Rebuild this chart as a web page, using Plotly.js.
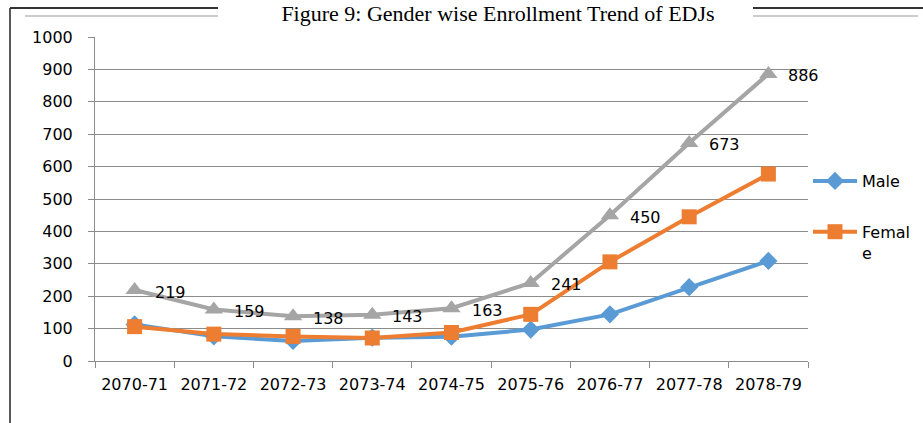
<!DOCTYPE html>
<html>
<head>
<meta charset="utf-8">
<script src="https://cdn.plot.ly/plotly-3.0.1.min.js"></script>
<style>html,body{margin:0;padding:0;background:#fff;}#chart{width:923px;height:423px;}</style>
</head>
<body>
<div id="chart"></div>
<script>
const categories = ["2070-71","2071-72","2072-73","2073-74","2074-75","2075-76","2076-77","2077-78","2078-79"];
const maleValues = [113, 76, 62, 72, 75, 97, 144, 228, 309];
const femaleValues = [106, 83, 76, 71, 88, 144, 306, 445, 577];
const totalValues = [219, 159, 138, 143, 163, 241, 450, 673, 886];
const yTicks = [0,100,200,300,400,500,600,700,800,900,1000];
const seriesNames = ["Male", "Femal<br>e", "Total"];

const FONT = "DejaVu Sans";
const GRID = "#8c8c8c";

const traces = [
  {x: categories, y: maleValues, name: seriesNames[0], type: "scatter", mode: "lines+markers",
   line: {color: "#5B9BD5", width: 4}, marker: {symbol: "diamond", size: 14, color: "#5B9BD5"},
   legendgroup: "m"},
  {x: categories, y: femaleValues, name: seriesNames[1], type: "scatter", mode: "lines+markers",
   line: {color: "#ED7D31", width: 4}, marker: {symbol: "square", size: 15, color: "#ED7D31"},
   legendgroup: "f"},
  {x: categories, y: totalValues, name: seriesNames[2], type: "scatter", mode: "lines+markers",
   line: {color: "#A5A5A5", width: 4}, marker: {symbol: "triangle-up", size: 16, color: "#A5A5A5"},
   showlegend: false}
];

const annotations = categories.map((c, i) => ({
  x: c, y: totalValues[i], text: String(totalValues[i]), showarrow: false,
  xanchor: "left", yanchor: "middle", xshift: 18, yshift: -2,
  font: {family: FONT, size: 16, color: "#000"}
}));

function px(xp){ return (xp - 95) / 713; }
function py(yp){ return (361 - yp) / 324; }

const shapes = [
  {type:"line", xref:"paper", yref:"paper", x0:px(10), x1:px(10), y0:py(8), y1:py(430), line:{color:"#222", width:1.5}},
  {type:"line", xref:"paper", yref:"paper", x0:px(10), x1:px(218), y0:py(8), y1:py(8), line:{color:"#333", width:2}},
  {type:"line", xref:"paper", yref:"paper", x0:px(753), x1:px(923), y0:py(8), y1:py(8), line:{color:"#333", width:2}},
  {type:"line", xref:"paper", yref:"paper", x0:px(25), x1:px(218), y0:py(16), y1:py(16), line:{color:"#999", width:1}},
  {type:"line", xref:"paper", yref:"paper", x0:px(753), x1:px(918), y0:py(16), y1:py(16), line:{color:"#999", width:1}}
];

const layout = {
  width: 923, height: 423,
  margin: {l: 95, r: 115, t: 37, b: 62, autoexpand: false},
  paper_bgcolor: "#fff", plot_bgcolor: "#fff",
  font: {family: FONT, size: 16, color: "#000"},
  title: {text: "Figure 9: Gender wise Enrollment Trend of EDJs",
          font: {family: "Liberation Serif", size: 22, color: "#000"},
          x: 498/923, xanchor: "center", xref: "container",
          y: 1 - 13/423, yanchor: "middle", yref: "container"},
  xaxis: {type: "category", showgrid: false, showline: true, linecolor: GRID, linewidth: 1,
          ticks: "outside", tickson: "boundaries", ticklen: 6, tickcolor: GRID,
          tickfont: {family: FONT, size: 16, color: "#000"}, zeroline: false,
          ticklabelstandoff: 9,
          range: [-0.5, categories.length - 0.5], fixedrange: true},
  yaxis: {range: [0, 1000], tickvals: yTicks, showgrid: true, gridcolor: GRID, gridwidth: 1,
          showline: true, linecolor: GRID, linewidth: 1, ticks: "outside", ticklen: 6, tickcolor: GRID,
          tickfont: {family: FONT, size: 16, color: "#000"}, zeroline: false, ticklabelstandoff: 12},
  legend: {x: px(808), y: py(164), xanchor: "left", yanchor: "top",
           font: {family: FONT, size: 16, color: "#000"}, valign: "top",
           itemwidth: 44,
           traceorder: "grouped", tracegroupgap: 27, bgcolor: "rgba(0,0,0,0)"},
  annotations: annotations,
  shapes: shapes,
  showlegend: true
};

Plotly.newPlot("chart", traces, layout, {displayModeBar: false, staticPlot: true});
</script>
</body>
</html>
